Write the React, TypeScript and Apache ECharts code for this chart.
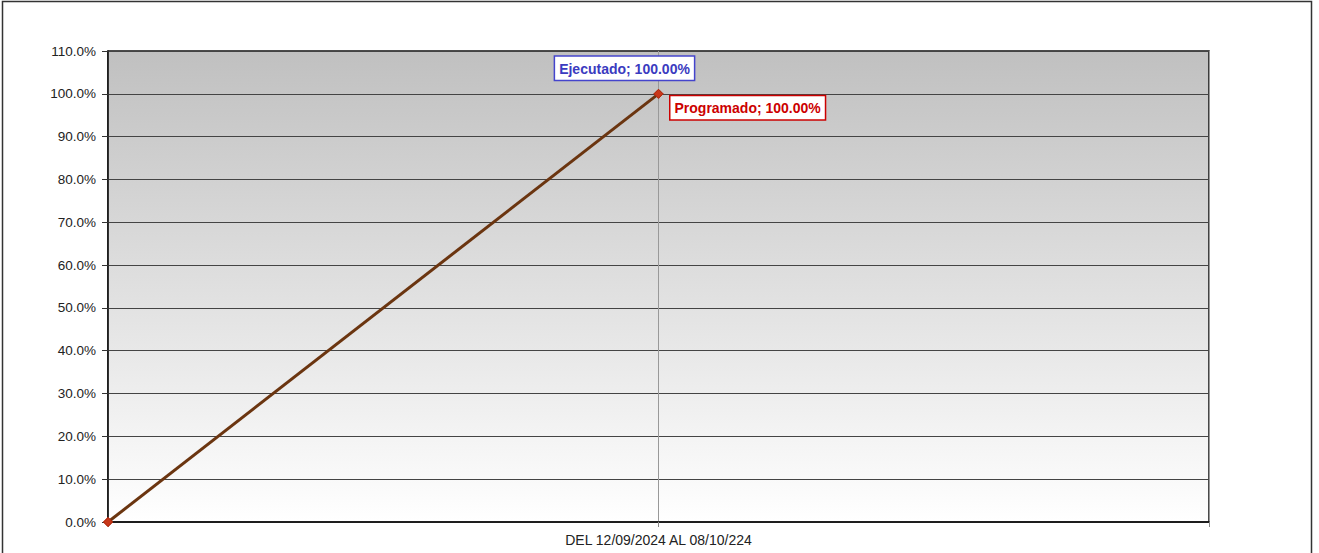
import React, { useEffect, useRef } from "react";
import * as echarts from "echarts";

const categories = ["", "DEL 12/09/2024 AL 08/10/224", ""];
const programado = [0, 100];
const ejecutado = [0, 100];
const yMin = 0;
const yMax = 110;
const yInterval = 10;

export default function App() {
  const ref = useRef<HTMLDivElement>(null);
  useEffect(() => {
    const chart = echarts.init(ref.current!, null, { renderer: "svg" });
    const last = programado.length - 1;
    const labelFont = "Liberation Sans Narrow, Arial Narrow, Liberation Sans, sans-serif";
    chart.setOption({
      animation: false,
      backgroundColor: "#ffffff",
      textStyle: { fontFamily: "Liberation Sans, Arial, sans-serif" },
      graphic: [
        {
          type: "rect",
          shape: { x: 2.5, y: 1.5, width: 1309, height: 560 },
          style: { fill: "none", stroke: "#333", lineWidth: 1.5 },
          silent: true,
        },
      ],
      grid: {
        left: 108,
        right: 110,
        top: 51,
        bottom: 31,
        show: true,
        borderColor: "#111",
        borderWidth: 1.5,
        backgroundColor: new echarts.graphic.LinearGradient(0, 0, 0, 1, [
          { offset: 0, color: "#c0c0c0" },
          { offset: 1, color: "#ffffff" },
        ]),
      },
      xAxis: {
        type: "category",
        data: categories,
        boundaryGap: false,
        axisLine: { show: true, lineStyle: { color: "#111", width: 1.5 } },
        axisTick: { show: true, length: 5, lineStyle: { color: "#888" } },
        axisLabel: { color: "#222", fontSize: 14, margin: 11 },
        splitLine: { show: true, lineStyle: { color: "#999", width: 1 } },
      },
      yAxis: {
        type: "value",
        min: yMin,
        max: yMax,
        interval: yInterval,
        axisLine: { show: true, lineStyle: { color: "#111", width: 1.5 } },
        axisTick: { show: true, length: 6, lineStyle: { color: "#333" } },
        axisLabel: {
          color: "#222",
          fontSize: 13.5,
          margin: 12,
          formatter: (v: number) => v.toFixed(1) + "%",
        },
        splitLine: { show: true, lineStyle: { color: "#444", width: 1 } },
      },
      series: [
        {
          name: "Ejecutado",
          type: "line",
          data: ejecutado.map((v, i) =>
            i === last
              ? {
                  value: v,
                  label: {
                    show: true,
                    position: "top",
                    distance: 9,
                    offset: [-34, 0],
                    formatter: (p: any) => "Ejecutado; " + Number(p.value).toFixed(2) + "%",
                    color: "#3b3bc0",
                    fontWeight: "bold",
                    fontSize: 14,
                    fontFamily: labelFont,
                    backgroundColor: "#ffffff",
                    borderColor: "#4444cc",
                    borderWidth: 1.5,
                    padding: [5, 4, 4, 4],
                  },
                }
              : v
          ),
          symbol: "diamond",
          symbolSize: 9,
          showSymbol: true,
          itemStyle: { color: "#c8381a", borderColor: "#b02a10", borderWidth: 1 },
          lineStyle: { color: "#6b3510", width: 3 },
          z: 2,
        },
        {
          name: "Programado",
          type: "line",
          data: programado.map((v, i) =>
            i === last
              ? {
                  value: v,
                  label: {
                    show: true,
                    position: "right",
                    distance: 7,
                    offset: [0, 14],
                    formatter: (p: any) => "Programado; " + Number(p.value).toFixed(2) + "%",
                    color: "#cc0000",
                    fontWeight: "bold",
                    fontSize: 14,
                    fontFamily: labelFont,
                    backgroundColor: "#ffffff",
                    borderColor: "#cc0000",
                    borderWidth: 1.5,
                    padding: [5, 4, 4, 4],
                  },
                }
              : v
          ),
          symbol: "diamond",
          symbolSize: 9,
          showSymbol: true,
          itemStyle: { color: "#c8381a", borderColor: "#b02a10", borderWidth: 1 },
          lineStyle: { opacity: 0 },
          z: 3,
        },
      ],
    });
    return () => chart.dispose();
  }, []);
  return (
    <div
      ref={ref}
      style={{ position: "fixed", left: 0, top: 0, width: 1319, height: 553 }}
    />
  );
}
